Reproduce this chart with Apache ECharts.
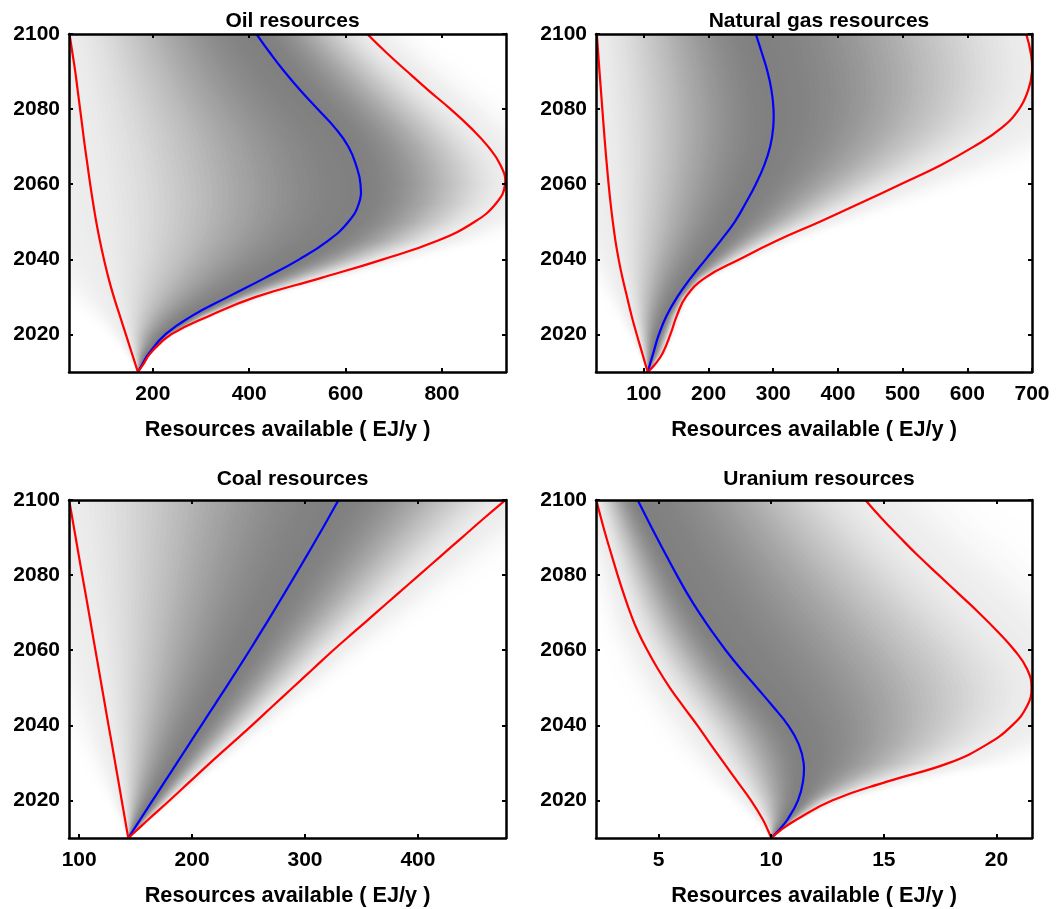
<!DOCTYPE html>
<html><head><meta charset="utf-8">
<script src="https://cdn.jsdelivr.net/npm/echarts@6/dist/echarts.min.js"></script>
<style>html,body{margin:0;padding:0;background:#fff}#c{width:1061px;height:909px}</style>
</head><body><div id="c"></div>
<script>
// ---------- data ----------
const years = [2010,2012,2015,2020,2025,2030,2035,2040,2045,2050,2055,2060,2065,2070,2075,2080,2085,2090,2095,2100];
const yearTicks = [2020,2040,2060,2080,2100];
const yearRange = [2010, 2100];

const oilLower  = [169,164,156.5,144,131.5,119,108,98.5,90,82.5,76,70,64.5,59,54,49,44,39,33,27];
const oilMedian = [169,178,192,226,282,356,432,504,564,606,628,631,622,606,578,542,506,473,443,415];
const oilUpper  = [169,180,195,238,318,414,548,678,792,868,913,931,922,896,860,818,772,728,685,645];
const oilRange  = [26, 933];
const oilTicks  = [200,400,600,800];

const gasLower  = [106,102.5,97.5,89,81,74,67,61,56,52,48.5,45.5,42.8,40.3,38,35.8,33.6,31.4,29.3,27.2];
const gasMedian = [106,109.3,114.5,123.2,135.1,151.7,172.3,195.6,218.8,240.5,257.5,273.0,286.0,295.2,299.9,300.4,297.3,291.1,282.3,273.0];
const gasUpper  = [106,117,129,141,151,165,194,248,306,372,435,497,558,610,653,680,694,700,698,691];
const gasRange  = [26, 700];
const gasTicks  = [100,200,300,400,500,600,700];

const coalLower  = [143.5,142.3,140.6,137.7,134.8,131.9,129.0,126.0,123.1,120.2,117.3,114.4,111.5,108.6,105.7,102.7,99.8,96.9,94.0,91.1];
const coalMedian = [143.5,147.8,154.2,165.0,175.8,186.6,197.4,208.2,219.0,229.8,240.5,251.0,261.3,271.5,281.5,291.4,301.2,310.9,320.4,329.7];
const coalUpper  = [143.5,150.8,161.5,180.0,198.0,216.0,234.5,253.0,271.0,289.0,307.0,325.0,344.0,363.0,382.0,401.0,420.0,439.0,458.0,477.5];
const coalRange  = [91, 478];
const coalTicks  = [100,200,300,400];

const uraLower  = [10.0,9.86,9.62,9.1,8.5,7.9,7.3,6.72,6.1,5.5,4.97,4.5,4.08,3.74,3.45,3.18,2.93,2.68,2.45,2.23];
const uraMedian = [10.0,10.33,10.73,11.19,11.41,11.44,11.22,10.75,10.08,9.37,8.65,7.98,7.37,6.80,6.28,5.81,5.36,4.92,4.49,4.07];
const uraUpper  = [10.0,10.40,11.15,12.70,15.14,17.9,19.6,20.7,21.35,21.56,21.36,20.8,20.05,19.22,18.33,17.44,16.55,15.72,14.92,14.18];
const uraRange  = [2.22, 21.58];
const uraTicks  = [5,10,15,20];

const titles = ['Oil resources','Natural gas resources','Coal resources','Uranium resources'];
const xName = 'Resources available ( EJ/y )';

// ---------- layout ----------
const FONT = '"Liberation Sans", Arial, Helvetica, sans-serif';
const panels = [
  {title: titles[0], lower: oilLower,  median: oilMedian,  upper: oilUpper,  range: oilRange,  ticks: oilTicks,  left: 69,  top: 34,  width: 437, height: 338, titleTop: 6},
  {title: titles[1], lower: gasLower,  median: gasMedian,  upper: gasUpper,  range: gasRange,  ticks: gasTicks,  left: 596, top: 34,  width: 436, height: 338, titleTop: 6},
  {title: titles[2], lower: coalLower, median: coalMedian, upper: coalUpper, range: coalRange, ticks: coalTicks, left: 69,  top: 500, width: 437, height: 338, titleTop: 464},
  {title: titles[3], lower: uraLower,  median: uraMedian,  upper: uraUpper,  range: uraRange,  ticks: uraTicks,  left: 596, top: 500, width: 436, height: 338, titleTop: 464}
];

// shading intensity: t = 1 at the median, 0 at the red bounds, < 0 outside them
function shade(t) {
  let I;
  if (t >= 0) I = 0.15 + 0.85 * Math.pow(Math.sin(Math.PI / 2 * Math.min(t, 1)), 1.5);
  else I = 0.15 * Math.exp(-Math.pow(-t / 0.3, 2));
  const g = Math.round(255 - 127 * I);
  return 'rgb(' + g + ',' + g + ',' + g + ')';
}
const levels = [];
for (let t = -0.75; t < 0.995; t += 0.02) levels.push([+t.toFixed(3), 0]);

const tickStyle = {color: '#000', fontWeight: 'bold', fontSize: 21, fontFamily: FONT};
const nameStyle = {color: '#000', fontWeight: 'bold', fontSize: 21.7, fontFamily: FONT};
const lineAxis = {show: true, onZero: false, lineStyle: {color: '#000', width: 2.5}};

const option = {
  animation: false,
  backgroundColor: '#fff',
  title: [], grid: [], xAxis: [], yAxis: [], series: []
};

panels.forEach((p, i) => {
  option.title.push({
    text: p.title, left: p.left + p.width / 2, top: p.titleTop, textAlign: 'center',
    textStyle: {color: '#000', fontWeight: 'bold', fontSize: 21, fontFamily: FONT}
  });
  option.grid.push({left: p.left, top: p.top, width: p.width, height: p.height,
    containLabel: false, outerBoundsMode: 'none', show: false});
  const fmt = v => String(v);
  const tick = vals => ({show: true, inside: true, length: 4, customValues: vals, lineStyle: {color: '#000', width: 2}});
  option.xAxis.push({
    gridIndex: i, type: 'value', position: 'bottom', min: p.range[0], max: p.range[1], z: 10,
    axisLine: lineAxis, axisTick: tick(p.ticks),
    axisLabel: Object.assign({show: true, margin: 12, customValues: p.ticks, formatter: fmt}, tickStyle),
    splitLine: {show: false},
    name: xName, nameLocation: 'middle', nameGap: 47, nameTextStyle: nameStyle
  });
  option.xAxis.push({
    gridIndex: i, type: 'value', position: 'top', min: p.range[0], max: p.range[1], z: 10,
    axisLine: lineAxis, axisTick: tick(p.ticks),
    axisLabel: {show: false}, splitLine: {show: false}
  });
  option.yAxis.push({
    gridIndex: i, type: 'value', position: 'left', min: yearRange[0], max: yearRange[1], z: 10,
    axisLine: lineAxis, axisTick: tick(yearTicks),
    axisLabel: Object.assign({show: true, margin: 9, customValues: yearTicks, formatter: fmt}, tickStyle),
    splitLine: {show: false}
  });
  option.yAxis.push({
    gridIndex: i, type: 'value', position: 'right', min: yearRange[0], max: yearRange[1], z: 10,
    axisLine: lineAxis, axisTick: tick(yearTicks),
    axisLabel: {show: false}, splitLine: {show: false}
  });
  const xi = 2 * i, yi = 2 * i;
  // density shading: nested bands between the bounds and the median
  option.series.push({
    type: 'custom', xAxisIndex: xi, yAxisIndex: yi, clip: true, z: 1, silent: true,
    data: levels,
    renderItem: function (params, api) {
      const t = api.value(0);
      const pts = [];
      for (let k = 0; k < years.length; k++) {
        const x = p.lower[k] + t * (p.median[k] - p.lower[k]);
        pts.push(api.coord([x, years[k]]));
      }
      for (let k = years.length - 1; k >= 0; k--) {
        const x = p.upper[k] - t * (p.upper[k] - p.median[k]);
        pts.push(api.coord([x, years[k]]));
      }
      return {type: 'polygon', shape: {points: pts}, style: {fill: shade(t), stroke: null}};
    }
  });
  // smooth curves (median in blue, bounds in red)
  const curve = (arr, color, z) => ({
    type: 'custom', xAxisIndex: xi, yAxisIndex: yi, clip: true, z: z, silent: true,
    data: arr.map((v, k) => [v, years[k]]),
    renderItem: function (params, api) {
      if (params.dataIndex !== 0) return null;
      const pts = arr.map((v, k) => api.coord([v, years[k]]));
      return {type: 'polyline', shape: {points: pts, smooth: 0.45},
        style: {stroke: color, lineWidth: 2.2, fill: null, lineJoin: 'round'}};
    }
  });
  option.series.push(curve(p.median, '#0000ff', 3));
  option.series.push(curve(p.lower, '#ff0000', 4));
  option.series.push(curve(p.upper, '#ff0000', 4));
});

const chart = echarts.init(document.getElementById('c'), null, {renderer: 'canvas', devicePixelRatio: 1});
chart.setOption(option);
</script>
</body></html>
